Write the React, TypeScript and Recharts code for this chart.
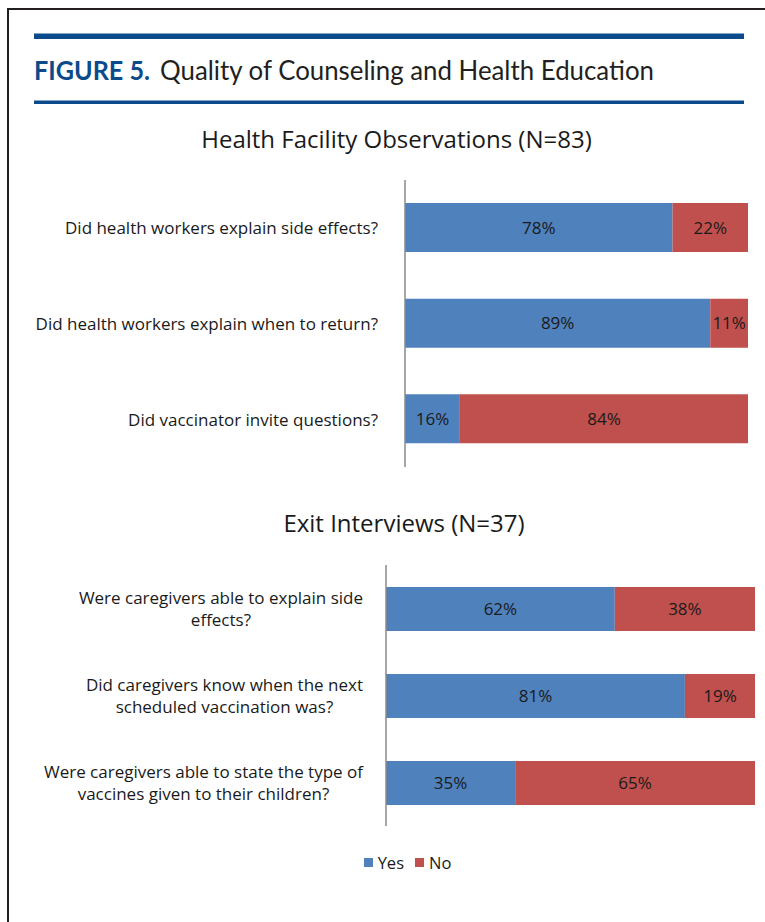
import { BarChart, Bar, XAxis, YAxis, LabelList } from "recharts";

const seriesNames = ["Yes", "No"];
const seriesColors = ["#4F81BD", "#C0504D"];

const facilityTitle = "Health Facility Observations (N=83)";
const facilityQuestions = [
  "Did health workers explain side effects?",
  "Did health workers explain when to return?",
  "Did vaccinator invite questions?",
];
const facilityYes = [78, 89, 16];
const facilityNo = [22, 11, 84];

const exitTitle = "Exit Interviews (N=37)";
const exitQuestions = [
  ["Were caregivers able to explain side", "effects?"],
  ["Did caregivers know when the next", "scheduled vaccination was?"],
  ["Were caregivers able to state the type of", "vaccines given to their children?"],
];
const exitYes = [62, 81, 35];
const exitNo = [38, 19, 65];

const FONT = "'Open Sans', sans-serif";
const HEAD_FONT = "Lato, sans-serif";
const TICK_SIZE = 17;

const facilityData = facilityQuestions.map((q, i) => ({
  name: q,
  yes: facilityYes[i],
  no: facilityNo[i],
}));
const exitData = exitQuestions.map((lines, i) => ({
  name: lines.join(" "),
  lines,
  yes: exitYes[i],
  no: exitNo[i],
}));

let ctx: CanvasRenderingContext2D | null = null;
function textWidth(s: string) {
  if (!ctx) ctx = document.createElement("canvas").getContext("2d");
  if (!ctx) return s.length * 8.5;
  ctx.font = `${TICK_SIZE}px 'Open Sans'`;
  return ctx.measureText(s).width;
}

function RightTick(props: any) {
  const { x, y, payload } = props;
  return (
    <text x={x - 27} y={y} textAnchor="end" dominantBaseline="central" fontSize={TICK_SIZE} fill="#1a1a1a" fontFamily={FONT}>
      {payload.value}
    </text>
  );
}

function WrappedTick(props: any) {
  const { x, y, index } = props;
  const lines: string[] = exitQuestions[index] || [];
  const blockW = Math.max(...lines.map(textWidth));
  const cx = x - 23 - blockW / 2;
  return (
    <text textAnchor="middle" fontSize={TICK_SIZE} fill="#1a1a1a" fontFamily={FONT}>
      {lines.map((l, i) => (
        <tspan key={i} x={cx} y={y + (i - (lines.length - 1) / 2) * 22} dominantBaseline="central">
          {l}
        </tspan>
      ))}
    </text>
  );
}

const pct = (v: any) => `${v}%`;

export default function App() {
  return (
    <div style={{ position: "absolute", left: 0, top: 0, width: 765, height: 922, background: "#fff", fontFamily: FONT, overflow: "hidden" }}>
      {/* frame */}
      <div style={{ position: "absolute", left: 7, top: 8, width: 770, height: 930, borderLeft: "2.5px solid #231F20", borderTop: "2.5px solid #231F20" }} />
      {/* header */}
      <svg width={765} height={110} style={{ position: "absolute", left: 0, top: 0 }}>
        <rect x={34} y={33.5} width={710} height={5.5} fill="#0B4A8B" />
        <rect x={34} y={100.5} width={710} height={3.5} fill="#0B4A8B" />
        <text x={34} y={80} fontSize={27} fontWeight="bold" fill="#0B4A8B" fontFamily={HEAD_FONT} textLength={116} lengthAdjust="spacingAndGlyphs">
          FIGURE 5.
        </text>
        <text x={160} y={80} fontSize={27} fill="#231F20" fontFamily={HEAD_FONT} textLength={494} lengthAdjust="spacingAndGlyphs">
          Quality of Counseling and Health Education
        </text>
      </svg>

      <div style={{ position: "absolute", left: 0, width: 793, top: 122, textAlign: "center", fontSize: 24, color: "#1a1a1a" }}>
        {facilityTitle}
      </div>

      <div style={{ position: "absolute", left: 0, top: 170 }}>
        <BarChart
          layout="vertical"
          width={765}
          height={310}
          data={facilityData}
          margin={{ top: 10, right: 17, bottom: 13, left: 0 }}
          barSize={49}
        >
          <XAxis type="number" domain={[0, 100]} hide />
          <YAxis
            type="category"
            dataKey="name"
            width={405}
            tickLine={false}
            tickSize={0}
            tickMargin={0}
            axisLine={{ stroke: "#8a8a8a", strokeWidth: 1.5 }}
            tick={<RightTick />}
            interval={0}
          />
          <Bar dataKey="yes" stackId="a" fill={seriesColors[0]} name={seriesNames[0]} isAnimationActive={false}>
            <LabelList dataKey="yes" position="center" formatter={pct} fill="#1a1a1a" fontSize={TICK_SIZE} fontFamily={FONT} />
          </Bar>
          <Bar dataKey="no" stackId="a" fill={seriesColors[1]} name={seriesNames[1]} isAnimationActive={false}>
            <LabelList dataKey="no" position="center" formatter={pct} fill="#1a1a1a" fontSize={TICK_SIZE} fontFamily={FONT} />
          </Bar>
        </BarChart>
      </div>

      <div style={{ position: "absolute", left: 0, width: 808, top: 506, textAlign: "center", fontSize: 24, color: "#1a1a1a" }}>
        {exitTitle}
      </div>

      <div style={{ position: "absolute", left: 0, top: 555 }}>
        <BarChart
          layout="vertical"
          width={765}
          height={284}
          data={exitData}
          margin={{ top: 10, right: 10, bottom: 13, left: 0 }}
          barSize={44}
        >
          <XAxis type="number" domain={[0, 100]} hide />
          <YAxis
            type="category"
            dataKey="name"
            width={386}
            tickLine={false}
            tickSize={0}
            tickMargin={0}
            axisLine={{ stroke: "#8a8a8a", strokeWidth: 1.5 }}
            tick={<WrappedTick />}
            interval={0}
          />
          <Bar dataKey="yes" stackId="a" fill={seriesColors[0]} name={seriesNames[0]} isAnimationActive={false}>
            <LabelList dataKey="yes" position="center" formatter={pct} fill="#1a1a1a" fontSize={TICK_SIZE} fontFamily={FONT} />
          </Bar>
          <Bar dataKey="no" stackId="a" fill={seriesColors[1]} name={seriesNames[1]} isAnimationActive={false}>
            <LabelList dataKey="no" position="center" formatter={pct} fill="#1a1a1a" fontSize={TICK_SIZE} fontFamily={FONT} />
          </Bar>
        </BarChart>
      </div>

      {/* legend */}
      <div style={{ position: "absolute", left: 0, width: 815, top: 851, display: "flex", justifyContent: "center", gap: 11, fontSize: 16.5, color: "#1a1a1a" }}>
        {seriesNames.map((n, i) => (
          <div key={n} style={{ display: "flex", alignItems: "center", gap: 5 }}>
            <span style={{ display: "inline-block", width: 9, height: 9, background: seriesColors[i] }} />
            <span>{n}</span>
          </div>
        ))}
      </div>
    </div>
  );
}
